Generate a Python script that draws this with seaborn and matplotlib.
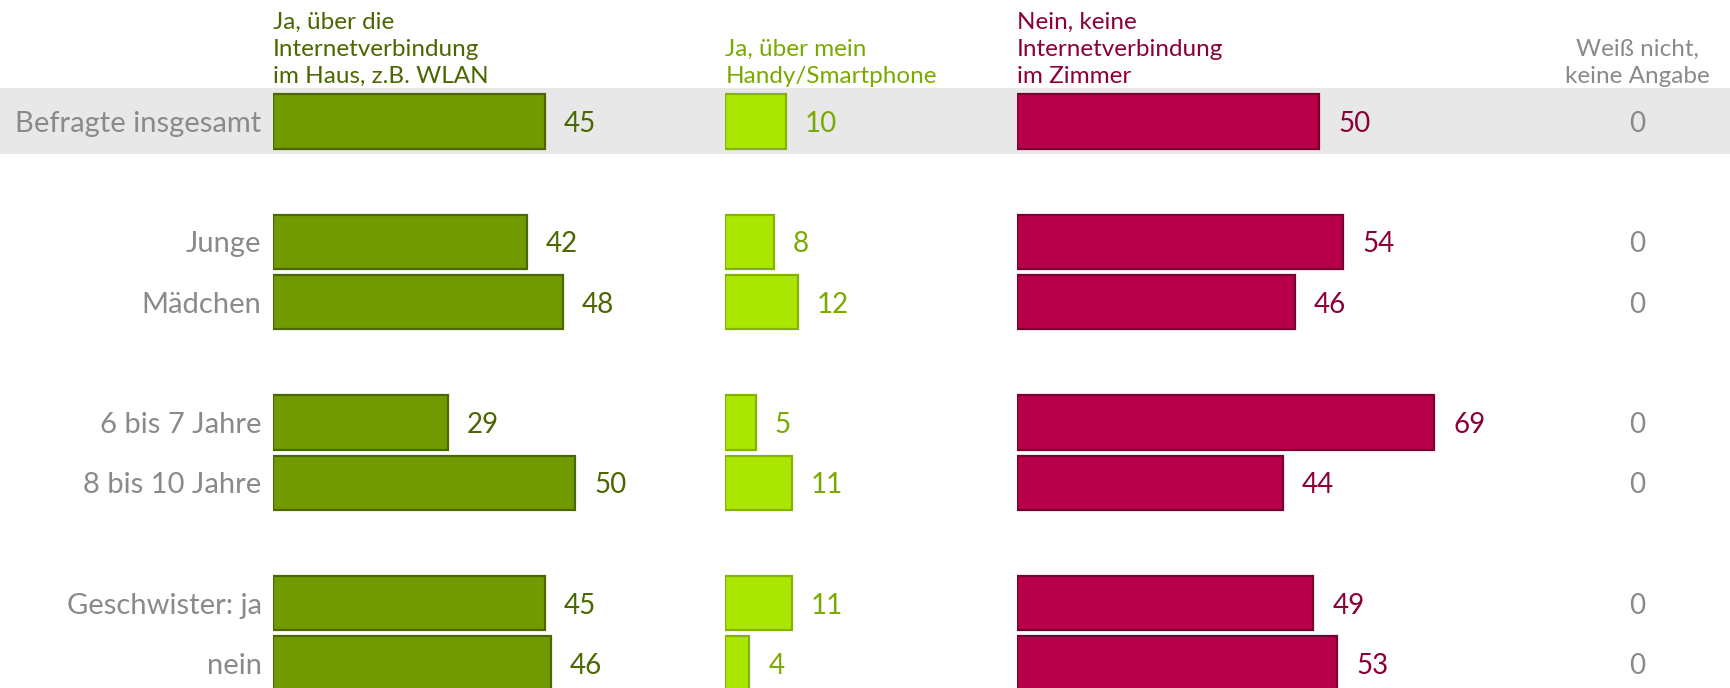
import matplotlib
matplotlib.use("Agg")
import matplotlib.pyplot as plt
import seaborn as sns
import pandas as pd
import numpy as np

sns.set_style("white")
plt.rcParams['font.family'] = ['Lato', 'DejaVu Sans']

# ---- data ----
groups = ["Befragte insgesamt", "Junge", "Mädchen", "6 bis 7 Jahre", "8 bis 10 Jahre",
          "Geschwister: ja", "nein"]
positions = [0, 2, 3, 5, 6, 8, 9]
wlan = [45, 42, 48, 29, 50, 45, 46]
handy = [10, 8, 12, 5, 11, 11, 4]
nein = [50, 54, 46, 69, 44, 49, 53]
weiss = [0, 0, 0, 0, 0, 0, 0]
headers = ["Ja, über die\nInternetverbindung\nim Haus, z.B. WLAN",
           "Ja, über mein\nHandy/Smartphone",
           "Nein, keine\nInternetverbindung\nim Zimmer",
           "Weiß nicht,\nkeine Angabe"]

W, H = 1731, 688
fig = plt.figure(figsize=(W / 100, H / 100), dpi=100)

row0_px = 121.4
row_px = 60.23
px_per_unit = 6.05
ylim = ((H - row0_px) / row_px, -row0_px / row_px)

def ax_px(left, right):
    return fig.add_axes([left / W, 0, (right - left) / W, 1])

# background band
bg = fig.add_axes([0, 0, 1, 1])
bg.set_ylim(*ylim)
bg.set_xlim(0, 1)
bg.axhspan(-0.555, 0.533, color="#E8E8E8", lw=0)
bg.axis("off")
bg.set_zorder(0)

cols = [
    dict(vals=wlan, left=272.7, right=720, fill="#709A00", edge="#4B6700", txt="#4B6700", head="#4B6700"),
    dict(vals=handy, left=725.3, right=1010, fill="#AAE600", edge="#84B300", txt="#7AAA00", head="#7AAA00"),
    dict(vals=nein, left=1016.8, right=W, fill="#B8004A", edge="#7A0032", txt="#8B0038", head="#8B0038"),
]
grey = "#8A8A8A"
fs_lab = 21
fs_val = 20
fs_head = 17.5
head_y = -0.57
head_ls = 1.36

axes = []
for i, c in enumerate(cols):
    ax = ax_px(c["left"], c["right"])
    ax.set_zorder(1 + i)
    ax.patch.set_alpha(0)
    df = pd.DataFrame({"value": c["vals"], "pos": positions})
    sns.barplot(data=df, x="value", y="pos", orient="h", native_scale=True,
                width=0.9, color=c["fill"], edgecolor=c["edge"], linewidth=1.6,
                saturation=1, ax=ax)
    ax.set_xlim(0, (c["right"] - c["left"]) / px_per_unit)
    ax.set_ylim(*ylim)
    ax.set_xlabel("")
    ax.set_ylabel("")
    for s in ax.spines.values():
        s.set_visible(False)
    ax.set_xticks([])
    if i == 0:
        ax.set_yticks(positions)
        ax.set_yticklabels(groups, fontsize=fs_lab, color=grey)
        ax.tick_params(axis="y", length=0, pad=8)
    else:
        ax.set_yticks([])
    off = 19 / px_per_unit
    for v, p in zip(c["vals"], positions):
        ax.text(v + off, p, str(v), ha="left", va="center_baseline", fontsize=fs_val, color=c["txt"])
    ax.text(0, head_y, headers[i], ha="left", va="bottom", fontsize=fs_head, color=c["head"],
            linespacing=head_ls)
    axes.append(ax)

# "Weiß nicht" column (values as text)
ax3 = axes[2]
xw = (1637 - 1016.8) / px_per_unit
for v, p in zip(weiss, positions):
    ax3.text(xw, p, str(v), ha="center", va="center_baseline", fontsize=fs_val, color=grey)
ax3.text(xw, head_y, headers[3], ha="center", va="bottom", fontsize=fs_head, color=grey,
         linespacing=head_ls, multialignment="center")

fig.savefig("out.png", dpi=100)
